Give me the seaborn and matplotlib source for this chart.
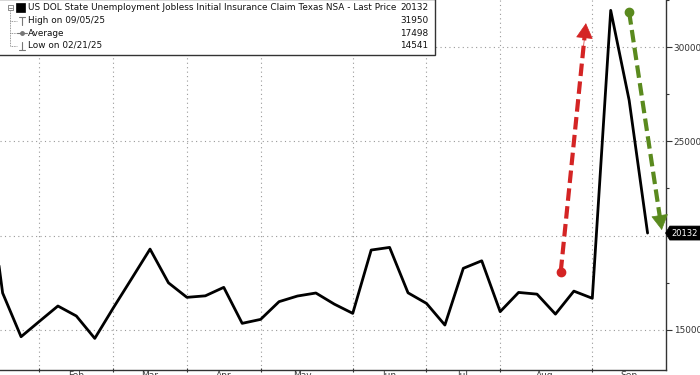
import numpy as np
import pandas as pd
import matplotlib
matplotlib.use("Agg")
import matplotlib.pyplot as plt
import matplotlib.dates as mdates
import seaborn as sns
from matplotlib.path import Path
from matplotlib.patches import Rectangle
from matplotlib.lines import Line2D

# ---------------- data ----------------
dates = pd.date_range("2025-01-10", "2025-09-19", freq="W-FRI")
claims = [24300, 16950, 14630, 15450, 16260, 15730, 14541, 16150, 17710, 19280,
          17490, 16720, 16800, 17250, 15340, 15550, 16490, 16790, 16950, 16360,
          15870, 19230, 19370, 16960, 16400, 15250, 18260, 18660, 15960, 16980,
          16890, 15830, 17050, 16670, 31950, 27180, 20132]

series_name = "US DOL State Unemployment Jobless Initial Insurance Claim Texas NSA - Last Price"
last_price = "20132"
legend_rows = [("High on 09/05/25", "31950"), ("Average", "17498"), ("Low on 02/21/25", "14541")]

month_ends = pd.to_datetime(["2025-01-31", "2025-02-28", "2025-03-28", "2025-04-25",
                             "2025-05-30", "2025-06-27", "2025-07-25", "2025-08-29"])
month_labels = ["Feb", "Mar", "Apr", "May", "Jun", "Jul", "Aug", "Sep"]
month_label_pos = pd.to_datetime(["2025-02-14", "2025-03-14", "2025-04-11", "2025-05-11",
                                  "2025-06-13", "2025-07-11", "2025-08-11", "2025-09-12"])

y_ticks = [15000, 20000, 25000, 30000]
y_tick_labels = ["15000", "", "25000", "30000"]
y_minor = [17500, 22500, 27500, 32500]

# annotation arrows (start -> tip) in data coordinates
red_arrow = (pd.Timestamp("2025-08-17"), 18060, pd.Timestamp("2025-08-26 14:00"), 31270)
green_arrow = (pd.Timestamp("2025-09-12"), 31850, pd.Timestamp("2025-09-24 10:00"), 20290)

# ---------------- figure ----------------
sns.set_theme(style="white")
plt.rcParams["font.family"] = ["DejaVu Sans"]

W, H = 700, 375
fig = plt.figure(figsize=(W / 100, H / 100), dpi=100)
ax = fig.add_axes([0, 5 / H, 666 / W, 370 / H])

df = pd.DataFrame({"date": dates, "claims": claims})
sns.lineplot(data=df, x="date", y="claims", ax=ax, color="black", lw=2.0, zorder=4)

ax.set_xlim(pd.Timestamp("2025-01-16"), pd.Timestamp("2025-09-26"))
ax.set_ylim(12864, 32475)
ax.set_xlabel("")
ax.set_ylabel("")

# y axis on the right
ax.yaxis.tick_right()
ax.set_yticks(y_ticks)
ax.set_yticklabels(y_tick_labels)
ax.set_yticks(y_minor, minor=True)
ax.tick_params(axis="y", which="major", right=True, left=False, length=4, width=0.8,
               color="#333333", labelsize=6.4, labelcolor="#333333", pad=1.5)
ax.tick_params(axis="y", which="minor", right=True, left=False, length=2.5, width=0.8,
               color="#333333")

# x axis: month-end ticks (grid) and mid-month labels
ax.set_xticks(month_ends)
ax.set_xticklabels([""] * len(month_ends))
ax.set_xticks(month_label_pos, minor=True)
ax.set_xticklabels(month_labels, minor=True)
ax.tick_params(axis="x", which="major", bottom=True, length=3, width=0.8,
               color="#333333", direction="inout")
ax.tick_params(axis="x", which="minor", bottom=False, length=0, labelsize=6.5,
               labelcolor="#333333", pad=1)

ax.grid(True, which="major", axis="both", color="#9a9a9a", lw=0.8, linestyle=(0, (1, 3)))
ax.set_axisbelow(True)

for s in ["left", "top"]:
    ax.spines[s].set_visible(False)
for s in ["right", "bottom"]:
    ax.spines[s].set_color("#333333")
    ax.spines[s].set_linewidth(1.0)


# ---------------- arrows ----------------
def dashed_arrow(a, color):
    x0, y0, x1, y1 = a
    x0n, x1n = mdates.date2num(x0), mdates.date2num(x1)
    frac = 0.955
    xe = x0n + (x1n - x0n) * frac
    ye = y0 + (y1 - y0) * frac
    ax.plot([x0n, xe], [y0, ye], color=color, lw=3.0, dashes=(3.0, 1.3),
            solid_capstyle="butt", dash_capstyle="butt", zorder=6)
    ax.plot([x0n], [y0], marker="o", ms=6, color=color, zorder=6)
    ax.annotate("", xy=(x1n, y1), xytext=(x0n + (x1n - x0n) * 0.9, y0 + (y1 - y0) * 0.9),
                arrowprops=dict(arrowstyle="-|>,head_length=0.5,head_width=0.28",
                                color=color, lw=0.5, mutation_scale=20,
                                shrinkA=0, shrinkB=0),
                zorder=7)


dashed_arrow(red_arrow, "#d42424")
dashed_arrow(green_arrow, "#5a8a1e")


# ---------------- last price tag ----------------
def tag_box(x0, y0, width, height, mutation_size):
    pad = mutation_size * 0.3
    x0, y0 = x0 - pad * 0.5, y0 - pad
    width, height = width + 2 * pad, height + 2 * pad
    tip = height * 0.3
    return Path([(x0 - tip, y0 + height / 2), (x0, y0 + height), (x0 + width + 10, y0 + height),
                 (x0 + width + 10, y0), (x0, y0), (x0 - tip, y0 + height / 2)], closed=True)


ax.annotate(last_price, xy=(1, claims[-1]), xycoords=("axes fraction", "data"),
            xytext=(3.6, 0), textcoords="offset points", ha="left", va="center",
            fontsize=6.0, color="white",
            bbox=dict(boxstyle=tag_box, fc="black", ec="black", lw=0.5),
            annotation_clip=False, zorder=10)


# ---------------- legend (Bloomberg style) ----------------
def fx(x):
    return x / W


def fy(y):
    return 1 - y / H


fs = 6.4
title = fig.text(fx(28), fy(7.5), series_name, fontsize=fs, color="#111111",
                 va="center", ha="left", zorder=12)
fig.canvas.draw()
bb = title.get_window_extent(renderer=fig.canvas.get_renderer())
val_x = bb.x1 + 32
box_r = val_x + 7

fig.add_artist(Rectangle((fx(-2), fy(55)), fx(box_r + 2), 56 / H, transform=fig.transFigure,
                         facecolor="white", edgecolor="#333333", lw=1.0, zorder=10))
fig.text(fx(val_x), fy(7.5), last_price, fontsize=fs, color="#111111",
         va="center", ha="right", zorder=12)
row_y = [20.5, 33.0, 45.5]
for (lab, val), yy in zip(legend_rows, row_y):
    fig.text(fx(28), fy(yy), lab, fontsize=fs, color="#111111", va="center", ha="left", zorder=12)
    fig.text(fx(val_x), fy(yy), val, fontsize=fs, color="#111111", va="center", ha="right", zorder=12)

# tree structure
tc = "#777777"
fig.add_artist(Rectangle((fx(7.5), fy(10)), 5 / W, 5 / H, transform=fig.transFigure,
                         facecolor="white", edgecolor=tc, lw=0.6, zorder=12))
fig.add_artist(Line2D([fx(8.5), fx(11.5)], [fy(7.5), fy(7.5)], transform=fig.transFigure,
                      color=tc, lw=0.6, zorder=13))
fig.add_artist(Line2D([fx(10), fx(10)], [fy(10.5), fy(45.5)], transform=fig.transFigure,
                      color=tc, lw=0.6, linestyle=(0, (1, 1)), zorder=12))
for yy in row_y:
    fig.add_artist(Line2D([fx(10), fx(17)], [fy(yy), fy(yy)], transform=fig.transFigure,
                          color=tc, lw=0.6, linestyle=(0, (1, 1)), zorder=12))
# series square
fig.add_artist(Rectangle((fx(16), fy(12)), 9 / W, 9 / H, transform=fig.transFigure,
                         facecolor="black", edgecolor="black", lw=0.5, zorder=12))
# high icon (T)
fig.add_artist(Line2D([fx(19), fx(25)], [fy(16.5), fy(16.5)], transform=fig.transFigure,
                      color=tc, lw=0.8, zorder=12))
fig.add_artist(Line2D([fx(22), fx(22)], [fy(16.5), fy(24.5)], transform=fig.transFigure,
                      color=tc, lw=0.8, zorder=12))
# average icon
fig.add_artist(Line2D([fx(17), fx(27)], [fy(33), fy(33)], transform=fig.transFigure,
                      color=tc, lw=0.8, zorder=12))
fig.add_artist(Line2D([fx(22)], [fy(33)], transform=fig.transFigure,
                      color=tc, marker="o", ms=2.5, lw=0, zorder=12))
# low icon (inverted T)
fig.add_artist(Line2D([fx(19), fx(25)], [fy(49.5), fy(49.5)], transform=fig.transFigure,
                      color=tc, lw=0.8, zorder=12))
fig.add_artist(Line2D([fx(22), fx(22)], [fy(41.5), fy(49.5)], transform=fig.transFigure,
                      color=tc, lw=0.8, zorder=12))

fig.savefig("out.png", dpi=100)
